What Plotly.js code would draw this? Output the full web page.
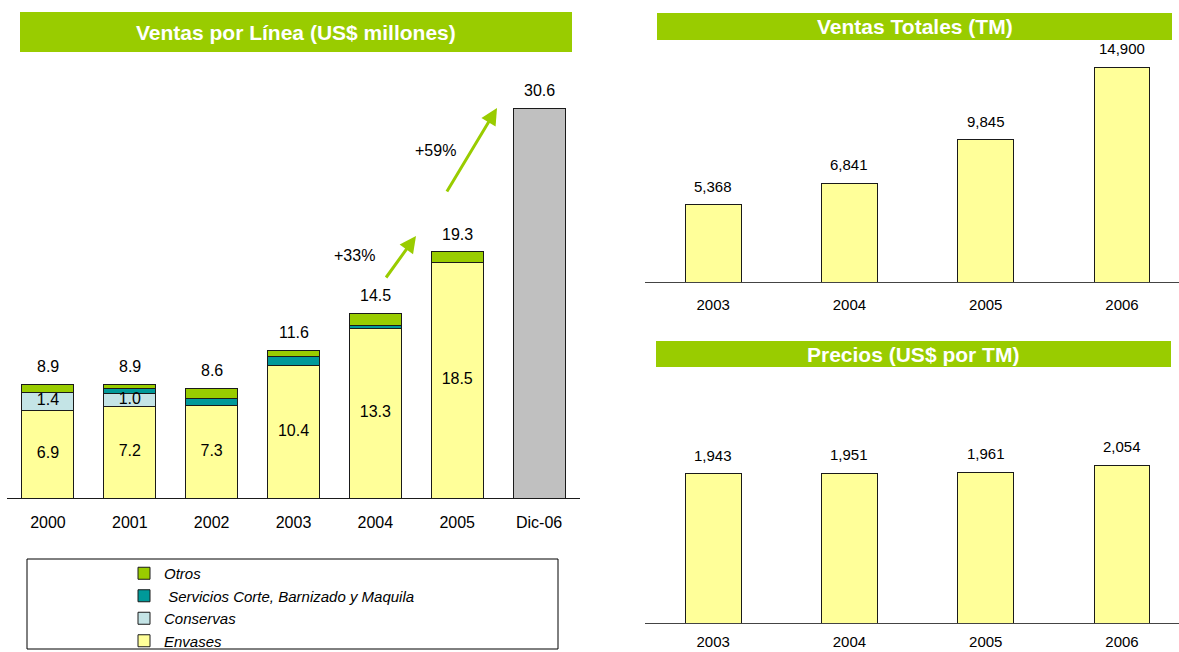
<!DOCTYPE html>
<html>
<head>
<meta charset="utf-8">
<script src="https://cdn.plot.ly/plotly-3.0.1.min.js"></script>
<style>html,body{margin:0;padding:0;background:#fff;overflow:hidden;}#chart{width:1179px;height:652px;}</style>
</head>
<body>
<div id="chart"></div>
<script>
// ---- Data ----
var years = ['2000', '2001', '2002', '2003', '2004', '2005', 'Dic-06'];
var envases = [6.9, 7.2, 7.3, 10.4, 13.3, 18.5, null];
var conservas = [1.4, 1.0, 0, 0, 0, 0, null];
var servicios = [0, 0.4, 0.5, 0.7, 0.3, 0.05, null];
var otros = [0.6, 0.3, 0.8, 0.5, 0.9, 0.8, null];
var proyeccion = [null, null, null, null, null, null, 30.6];
var totales = [8.9, 8.9, 8.6, 11.6, 14.5, 19.3, 30.6];

var tmYears = ['2003', '2004', '2005', '2006'];
var ventasTM = [5368, 6841, 9845, 14900];
var precios = [1943, 1951, 1961, 2054];

var growthLabels = ['+33%', '+59%'];

// ---- Helpers ----
var W = 1179, H = 652;
function px(x) { return x / W; }
function py(y) { return 1 - y / H; }
var FONT = 'Liberation Sans, Arial, sans-serif';
var GREEN = '#99CC00';

var lineStyle = {color: '#1a1a1a', width: 1};

var traces = [
  {type: 'bar', name: 'Envases', x: years, y: envases, marker: {color: '#FFFF99', line: lineStyle}, width: 0.634, xaxis: 'x', yaxis: 'y', hoverinfo: 'skip'},
  {type: 'bar', name: 'Conservas', x: years, y: conservas, marker: {color: '#C4E4E6', line: lineStyle}, width: 0.634, xaxis: 'x', yaxis: 'y', hoverinfo: 'skip'},
  {type: 'bar', name: ' Servicios Corte, Barnizado y Maquila', x: years, y: servicios, marker: {color: '#009999', line: lineStyle}, width: 0.634, xaxis: 'x', yaxis: 'y', hoverinfo: 'skip'},
  {type: 'bar', name: 'Otros', x: years, y: otros, marker: {color: GREEN, line: lineStyle}, width: 0.634, xaxis: 'x', yaxis: 'y', hoverinfo: 'skip'},
  {type: 'bar', name: 'Total', x: years, y: proyeccion, marker: {color: '#C0C0C0', line: lineStyle}, width: 0.634, xaxis: 'x', yaxis: 'y', showlegend: false, hoverinfo: 'skip'}
];

// inside labels for Envases
traces.push({
  type: 'scatter', mode: 'text', x: years.slice(0, 6),
  y: envases.slice(0, 6).map(function (v) { return v / 2; }),
  text: envases.slice(0, 6).map(function (v) { return v.toFixed(1); }),
  textposition: 'middle center', textfont: {family: FONT, size: 16, color: '#000'},
  xaxis: 'x', yaxis: 'y', showlegend: false, hoverinfo: 'skip', cliponaxis: false
});
// inside labels for Conservas
var cx = [], cy = [], ct = [];
for (var i = 0; i < 6; i++) {
  if (conservas[i] > 0) { cx.push(years[i]); cy.push(envases[i] + conservas[i] / 2); ct.push(conservas[i].toFixed(1)); }
}
traces.push({
  type: 'scatter', mode: 'text', x: cx, y: cy, text: ct,
  textposition: 'middle center', textfont: {family: FONT, size: 16, color: '#000'},
  xaxis: 'x', yaxis: 'y', showlegend: false, hoverinfo: 'skip', cliponaxis: false
});

// right charts
traces.push({type: 'bar', x: tmYears, y: ventasTM, marker: {color: '#FFFF99', line: lineStyle}, width: 0.41, xaxis: 'x2', yaxis: 'y2', showlegend: false, hoverinfo: 'skip'});
traces.push({type: 'bar', x: tmYears, y: precios, marker: {color: '#FFFF99', line: lineStyle}, width: 0.41, xaxis: 'x3', yaxis: 'y3', showlegend: false, hoverinfo: 'skip'});

var annotations = [];
// total labels (category axes: positions given as category serial index)
for (var j = 0; j < years.length; j++) {
  annotations.push({xref: 'x', yref: 'y', x: j, y: totales[j], text: totales[j].toFixed(1), showarrow: false, xanchor: 'center', yanchor: 'bottom', yshift: 8, font: {family: FONT, size: 16, color: '#000'}});
}
for (var k = 0; k < tmYears.length; k++) {
  annotations.push({xref: 'x2', yref: 'y2', x: k, y: ventasTM[k], text: ventasTM[k].toLocaleString('en-US'), showarrow: false, xanchor: 'center', yanchor: 'bottom', yshift: 8, font: {family: FONT, size: 15, color: '#000'}});
  annotations.push({xref: 'x3', yref: 'y3', x: k, y: precios[k], text: precios[k].toLocaleString('en-US'), showarrow: false, xanchor: 'center', yanchor: 'bottom', yshift: 8, font: {family: FONT, size: 15, color: '#000'}});
}
// growth arrows
annotations.push({xref: 'paper', yref: 'paper', x: px(416), y: py(236), ax: -31, ay: 43, text: '', showarrow: true, arrowhead: 2, arrowsize: 1.1, arrowwidth: 3, arrowcolor: GREEN});
annotations.push({xref: 'paper', yref: 'paper', x: px(497), y: py(108), ax: -51, ay: 85, text: '', showarrow: true, arrowhead: 2, arrowsize: 1.1, arrowwidth: 3, arrowcolor: GREEN});
annotations.push({xref: 'paper', yref: 'paper', x: px(354), y: py(255), xanchor: 'center', yanchor: 'middle', text: growthLabels[0], showarrow: false, font: {family: FONT, size: 16, color: '#000'}});
annotations.push({xref: 'paper', yref: 'paper', x: px(435), y: py(150), xanchor: 'center', yanchor: 'middle', text: growthLabels[1], showarrow: false, font: {family: FONT, size: 16, color: '#000'}});
// banner titles
annotations.push({xref: 'paper', yref: 'paper', x: px(296), y: py(32), xanchor: 'center', yanchor: 'middle', text: '<b>Ventas por Línea (US$ millones)</b>', showarrow: false, font: {family: FONT, size: 21, color: '#fff'}});
annotations.push({xref: 'paper', yref: 'paper', x: px(915), y: py(27), xanchor: 'center', yanchor: 'middle', text: '<b>Ventas Totales (TM)</b>', showarrow: false, font: {family: FONT, size: 21, color: '#fff'}});
annotations.push({xref: 'paper', yref: 'paper', x: px(913), y: py(354), xanchor: 'center', yanchor: 'middle', text: '<b>Precios (US$ por TM)</b>', showarrow: false, font: {family: FONT, size: 21, color: '#fff'}});

var shapes = [
  {type: 'rect', xref: 'paper', yref: 'paper', x0: px(20), x1: px(572), y0: py(52), y1: py(12), fillcolor: GREEN, line: {width: 0}, layer: 'below'},
  {type: 'rect', xref: 'paper', yref: 'paper', x0: px(657), x1: px(1172), y0: py(40), y1: py(13), fillcolor: GREEN, line: {width: 0}, layer: 'below'},
  {type: 'rect', xref: 'paper', yref: 'paper', x0: px(656), x1: px(1171), y0: py(367), y1: py(341), fillcolor: GREEN, line: {width: 0}, layer: 'below'},
  {type: 'rect', xref: 'paper', yref: 'paper', x0: px(27), x1: px(558), y0: py(649), y1: py(559), fillcolor: 'rgba(0,0,0,0)', line: {width: 1, color: '#000'}, layer: 'below'}
];

var xbase = {type: 'category', showgrid: false, zeroline: false, showline: true, linecolor: '#1a1a1a', linewidth: 1, ticks: '', fixedrange: true, automargin: false};
var ybase = {showgrid: false, zeroline: false, showline: false, showticklabels: false, ticks: '', fixedrange: true, automargin: false};

var layout = {
  width: W, height: H,
  margin: {l: 0, r: 0, t: 0, b: 0, pad: 0, autoexpand: false},
  paper_bgcolor: '#fff', plot_bgcolor: 'rgba(0,0,0,0)',
  barmode: 'stack', bargap: 0.37,
  font: {family: FONT, color: '#000'},
  xaxis: Object.assign({}, xbase, {domain: [px(7), px(580)], range: [-0.5, 6.5], anchor: 'y', tickfont: {family: FONT, size: 16, color: '#000'}, ticklabelstandoff: 10}),
  yaxis: Object.assign({}, ybase, {domain: [py(498), py(53)], range: [0, 35], anchor: 'x'}),
  xaxis2: Object.assign({}, xbase, {domain: [px(645), px(1179)], range: [-0.5, 3.418], anchor: 'y2', linecolor: '#444', tickfont: {family: FONT, size: 15, color: '#000'}, ticklabelstandoff: 9}),
  yaxis2: Object.assign({}, ybase, {domain: [py(282), py(44)], range: [0, 16500], anchor: 'x2'}),
  xaxis3: Object.assign({}, xbase, {domain: [px(645), px(1179)], range: [-0.5, 3.418], anchor: 'y3', linecolor: '#444', tickfont: {family: FONT, size: 15, color: '#000'}, ticklabelstandoff: 5}),
  yaxis3: Object.assign({}, ybase, {domain: [py(623), py(408)], range: [0, 2800], anchor: 'x3'}),
  showlegend: true,
  legend: {
    xref: 'container', yref: 'container',
    x: px(124), y: py(557), xanchor: 'left', yanchor: 'top',
    traceorder: 'reversed', bgcolor: 'rgba(0,0,0,0)', borderwidth: 0,
    font: {family: FONT, size: 15, color: '#000', style: 'italic'},
    itemclick: false, itemdoubleclick: false
  },
  annotations: annotations,
  shapes: shapes
};

Plotly.newPlot('chart', traces, layout, {staticPlot: true, displayModeBar: false});
</script>
</body>
</html>
